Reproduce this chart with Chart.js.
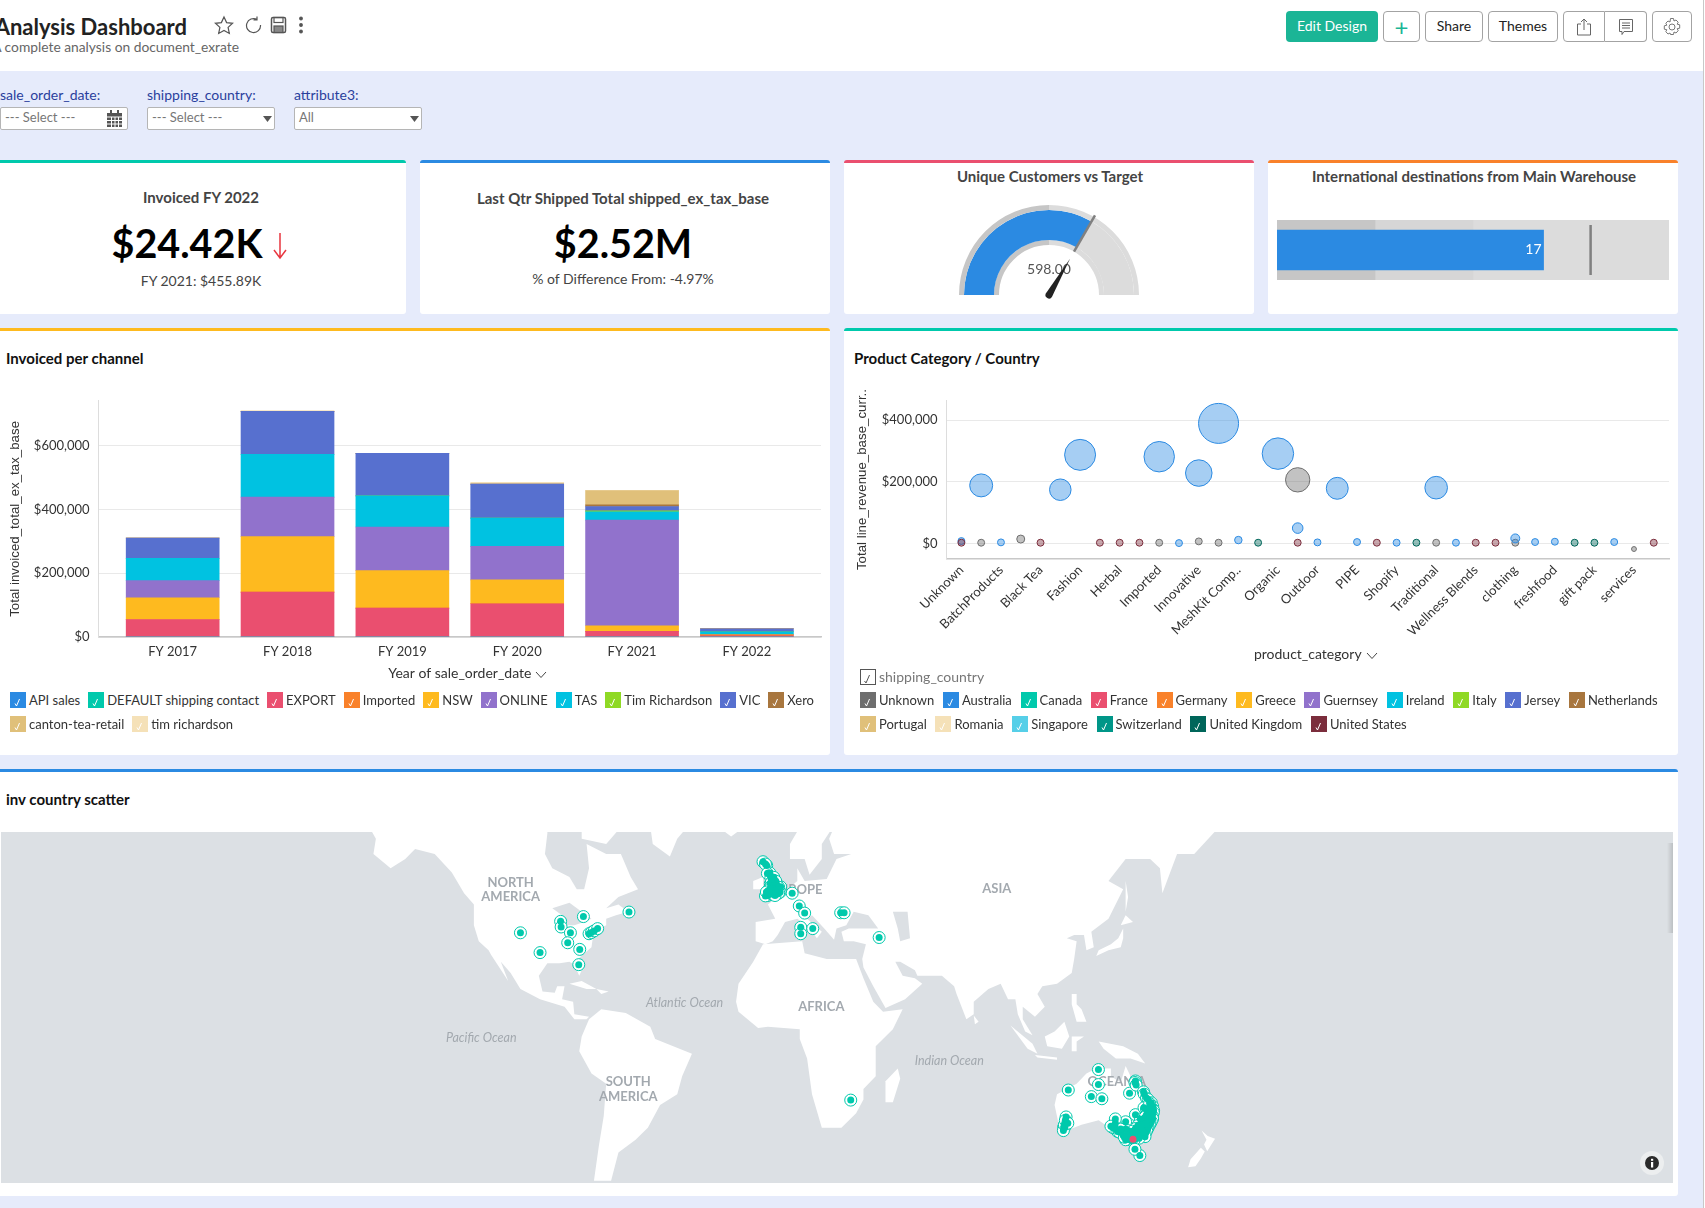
<!DOCTYPE html>
<html>
<head>
<meta charset="utf-8">
<title>Analysis Dashboard</title>
<script src="https://cdn.jsdelivr.net/npm/chart.js@4.4.4/dist/chart.umd.js"></script>
<style>
  html, body { margin: 0; padding: 0; background: #e6ebfb; }
  #page { position: relative; width: 1705px; height: 1208px; overflow: hidden; background: #e6ebfb; font-family: Lato, sans-serif; color: #333; }
  #page > * { position: absolute; }
  .t { white-space: nowrap; line-height: 1; }
  .c { transform: translate(-50%, -50%); }
  .m { transform: translateY(-50%); }
  .card { background: #fff; border-top: 3px solid; border-radius: 3px; box-sizing: border-box; }
  .btn { box-sizing: border-box; border: 1px solid #a3a3a3; border-radius: 4px; background: #fff; display: flex; align-items: center; justify-content: center; font-size: 14px; color: #222; padding-bottom: 3px; }
  .field { box-sizing: border-box; height: 23px; top: 107px; width: 128px; background: #fff; border: 1px solid #b5b5b5; border-radius: 2px; font-size: 13px; color: #777; padding: 1px 4px; line-height: 17px; }
  .flabel { top: 95px; font-size: 14px; color: #2a3f9d; }
  .legend { display: flex; flex-wrap: wrap; row-gap: 8px; font-size: 13px; color: #333; }
  .item { display: flex; align-items: center; height: 16px; white-space: nowrap; }
  .box { width: 16px; height: 16px; margin-right: 3px; flex: none; display: block; }
  canvas { display: block; }
</style>
</head>
<body>
<div id="page">
  <div style="left:0;top:0;width:1705px;height:71px;background:#fff"></div>
  <div class="t m" style="right:1518px;top:27px;font-size:22px;font-weight:700;color:#222">Analysis Dashboard</div>
  <div class="t m" style="right:1466px;top:47px;font-size:13.8px;color:#666">A complete analysis on document_exrate</div>

  <svg style="left:214px;top:15px" width="96" height="20" viewBox="0 0 96 20" fill="none" stroke="#555" stroke-width="1.2">
    <path d="M10 2l2.6 5.6 6 .7-4.5 4.1 1.2 6L10 15.4 4.700 18.400l1.200-6L1.400 8.300l6-.7z"/>
    <path d="M43 4.500a7 7 0 1 0 3.500 5.500M43 1.500v3.500h-3.500"/>
    <rect x="57.500" y="2.500" width="14" height="15" rx="1.500" stroke-width="1.500"/><rect x="60" y="2.500" width="9" height="5"/><rect x="60" y="11" width="9" height="6.500" fill="#888"/>
    <circle cx="87" cy="3.500" r="1.300" fill="#555"/><circle cx="87" cy="10" r="1.300" fill="#555"/><circle cx="87" cy="16.500" r="1.300" fill="#555"/>
  </svg>

  <div class="btn" style="left:1286px;top:11px;width:92px;height:31px;background:#1bb596;border:none;color:#fff">Edit Design</div>
  <div class="btn" style="left:1383px;top:11px;width:37px;height:31px;color:#1bb596;font-size:24px;padding:0">+</div>
  <div class="btn" style="left:1425px;top:11px;width:58px;height:31px">Share</div>
  <div class="btn" style="left:1488px;top:11px;width:70px;height:31px">Themes</div>
  <div class="btn" style="left:1563px;top:11px;width:42px;height:31px;border-radius:4px 0 0 4px;padding:0">
    <svg width="18" height="18" viewBox="0 0 18 18" fill="none" stroke="#666"><path d="M6 6H2.500v11h13V6H12M9 12V1M6 4l3-3 3 3"/></svg>
  </div>
  <div class="btn" style="left:1605px;top:11px;width:42px;height:31px;border-left:none;border-radius:0 4px 4px 0;padding:0">
    <svg width="18" height="18" viewBox="0 0 18 18" fill="none" stroke="#666"><path d="M2.500 1.500h13v12H7l-2 3v-3H2.500zM5 5h8M5 7.500h8M5 10h8"/></svg>
  </div>
  <div class="btn" style="left:1652px;top:11px;width:40px;height:31px;padding:0">
    <svg width="20" height="20" viewBox="0 0 20 20" fill="none" stroke="#777"><circle cx="10" cy="10" r="3"/><path d="M8.500 1.500h3l.5 2.500 2-1 2.200 2.200-1 2 2.500.6v3.400l-2.500.5 1 2-2.200 2.300-2-1-.5 2.500h-3L8 16l-2 1-2.200-2.300 1-2-2.500-.5V8.800l2.500-.6-1-2L6 4l2 1z"/></svg>
  </div>

  <div class="t m flabel" style="left:0">sale_order_date:</div>
  <div class="t m flabel" style="left:147px">shipping_country:</div>
  <div class="t m flabel" style="left:294px">attribute3:</div>
  <div class="field" style="left:0">--- Select ---</div>
  <div class="field" style="left:147px">--- Select ---</div>
  <div class="field" style="left:294px">All</div>
  <svg style="left:106px;top:110px" width="17" height="17" viewBox="0 0 17 17"><path fill="#555" d="M1 3h15v14H1zM4 0h2v4H4zM11 0h2v4h-2z"/><path stroke="#fff" d="M1 7h15M1 10.500h15M1 14h15M5.500 7v10M9 7v10M12.500 7v10"/></svg>
  <svg style="left:263px;top:116px" width="9" height="6"><path fill="#555" d="M0 0h9L4.500 6z"/></svg>
  <svg style="left:410px;top:116px" width="9" height="6"><path fill="#555" d="M0 0h9L4.500 6z"/></svg>

  <!-- KPI cards -->
  <div class="card" style="left:-4px;top:160px;width:410px;height:154px;border-color:#00c9ac"></div>
  <div class="card" style="left:420px;top:160px;width:410px;height:154px;border-color:#2b8ae2"></div>
  <div class="card" style="left:844px;top:160px;width:410px;height:154px;border-color:#ea4f6f"></div>
  <div class="card" style="left:1268px;top:160px;width:410px;height:154px;border-color:#f9812a"></div>

  <div class="t c" style="left:201px;top:197px;font-size:15px;font-weight:700;color:#444">Invoiced FY 2022</div>
  <div class="t c" style="left:187px;top:243px;font-size:39.5px;font-weight:700;color:#000">$24.42K</div>
  <svg style="left:272px;top:232px" width="16" height="28" fill="none" stroke="#e8363f" stroke-width="1.500"><path d="M8 1v25M2 18l6 8 6-8"/></svg>
  <div class="t c" style="left:201px;top:281px;font-size:14px;color:#444">FY 2021: $455.89K</div>
  <div class="t c" style="left:623px;top:198px;font-size:15px;font-weight:700;color:#444">Last Qtr Shipped Total shipped_ex_tax_base</div>
  <div class="t c" style="left:623px;top:243px;font-size:39.5px;font-weight:700;color:#000">$2.52M</div>
  <div class="t c" style="left:623px;top:279px;font-size:14px;color:#444">% of Difference From: -4.97%</div>
  <div class="t c" style="left:1050px;top:176px;font-size:15px;font-weight:700;color:#444">Unique Customers vs Target</div>
  <div class="t c" style="left:1474px;top:176px;font-size:15px;font-weight:700;color:#444">International destinations from Main Warehouse</div>

  <canvas id="gauge" width="180" height="105" style="left:959px;top:205px"></canvas>
  <canvas id="bullet" width="392" height="60" style="left:1277px;top:220px"></canvas>

  <!-- Chart panels -->
  <div class="card" style="left:-4px;top:328px;width:834px;height:427px;border-color:#feba1f"></div>
  <div class="card" style="left:844px;top:328px;width:834px;height:427px;border-color:#00c9ac"></div>
  <div class="card" style="left:-4px;top:769px;width:1682px;height:427px;border-color:#2b8ae2"></div>
  <div class="t m" style="left:6px;top:358px;font-size:15px;font-weight:700;color:#111">Invoiced per channel</div>
  <div class="t m" style="left:854px;top:358px;font-size:15px;font-weight:700;color:#111">Product Category / Country</div>
  <div class="t m" style="left:6px;top:799px;font-size:15px;font-weight:700;color:#111">inv country scatter</div>

  <canvas id="barChart" width="830" height="300" style="left:0;top:384px"></canvas>
  <canvas id="bubbleChart" width="828" height="281" style="left:850px;top:384px"></canvas>
  <svg style="left:535px;top:671px" width="12" height="8" fill="none" stroke="#444"><path d="M1 1l5 5.500L11 1"/></svg>
  <svg style="left:1366px;top:652px" width="12" height="8" fill="none" stroke="#444"><path d="M1 1l5 5.500L11 1"/></svg>

  <div id="barLegend" class="legend" style="left:10px;top:691.500px;width:815px;column-gap:8px"></div>
  <svg style="left:860px;top:669px" width="16" height="16" fill="none"><rect x=".5" y=".5" width="15" height="15" stroke="#555"/><path d="M4.500 12l1.500 2 3.500-8" stroke="#555"/></svg>
  <div class="t m" style="left:879px;top:677px;font-size:14px;color:#777">shipping_country</div>
  <div id="bubbleLegend" class="legend" style="left:860px;top:691.500px;width:815px;column-gap:8.700px"></div>

  <canvas id="mapChart" width="1672" height="351" style="left:1px;top:832px"></canvas>
  <div style="left:1667px;top:843px;width:6px;height:90px;background:linear-gradient(to right,rgba(0,0,0,0),rgba(0,0,0,.14))"></div>
  <div style="left:1640px;top:1151px;width:24px;height:24px;border-radius:50%;background:#eceeef"></div>
  <svg style="left:1645px;top:1156px" width="14" height="14"><circle cx="7" cy="7" r="7" fill="#2b2b2b"/><rect x="6" y="6" width="2.200" height="5.500" fill="#fff"/><rect x="6" y="2.800" width="2.200" height="2" fill="#fff"/></svg>
  <div style="left:1703px;top:0;width:1px;height:1208px;background:#c8c8c8"></div>
  <div style="left:1704px;top:0;width:1px;height:1208px;background:#fff"></div>
</div>

<script>
// ── Data ───────────────────────────────────────────────────────────────────

const fiscalYears = ['FY 2017', 'FY 2018', 'FY 2019', 'FY 2020', 'FY 2021', 'FY 2022'];
const invoicedTicks = [0, 200000, 400000, 600000];
const revenueTicks  = [0, 200000, 400000];

const apiSales       = [0, 0, 0, 0, 0, 0];
const defaultContact = [0, 0, 0, 0, 0, 0];
const exportSales    = [55000, 140600, 90600, 104200, 17700, 4000];
const imported       = [0, 0, 0, 0, 0, 3000];
const nsw            = [68000, 174000, 117700, 75000, 17700, 0];
const online         = [54000, 124000, 136500, 105200, 331300, 0];
const tas            = [70000, 134400, 97900, 88500, 26000, 9600];
const timRichardson  = [0, 0, 0, 0, 3000, 0];
const vic            = [63500, 134400, 133300, 106300, 13600, 9400];
const xero           = [0, 0, 0, 0, 5000, 0];
const cantonTea      = [0, 0, 0, 0, 44800, 0];
const timLower       = [0, 2500, 0, 5500, 0, 0];

const channelNames  = ['API sales', 'DEFAULT shipping contact', 'EXPORT', 'Imported', 'NSW', 'ONLINE', 'TAS', 'Tim Richardson', 'VIC', 'Xero', 'canton-tea-retail', 'tim richardson'];
const channelValues = [apiSales, defaultContact, exportSales, imported, nsw, online, tas, timRichardson, vic, xero, cantonTea, timLower];
const channelColors = ['#2b8ae2', '#00c9ac', '#ea4f6f', '#f9812a', '#feba1f', '#9172cc', '#00c2e1', '#8fd925', '#5770cf', '#a8763e', '#e0c07a', '#f5e1b8'];

const productCategories = ['Unknown', 'BatchProducts', 'Black Tea', 'Fashion', 'Herbal', 'Imported', 'Innovative', 'MeshKit Comp..', 'Organic', 'Outdoor', 'PIPE', 'Shopify', 'Traditional', 'Wellness Blends', 'clothing', 'freshfood', 'gift pack', 'services'];

// slot on the product axis, revenue, and bubble size (largest = 100)
const australiaSlot = [0, 1, 2, 5, 6, 10, 11, 12, 13, 14, 16, 17, 18, 19, 20, 22, 24, 25, 28, 29, 30, 33];
const australiaRev  = [7500, 188000, 3200, 174000, 287000, 281000, 1000, 228000, 389000, 10750, 291000, 49500, 3200, 178500, 4300, 2150, 180600, 2150, 16100, 4300, 5400, 4300];
const australiaSize = [3, 33, 3, 29, 60, 58, 3, 44, 100, 3.500, 62, 7, 3, 30, 3, 3, 32, 3, 5, 3, 3, 3];
const unknownSlot = [1, 3, 10, 12, 13, 17, 24, 28, 34];
const unknownRev  = [2150, 14000, 2150, 6400, 2150, 206000, 2150, 2150, -18300];
const unknownSize = [3, 4, 3, 3, 3, 37, 3, 3, 1.500];
const usSlot = [0, 4, 7, 8, 9, 17, 21, 26, 27, 35];
const usRev  = [2150, 2150, 2150, 2150, 2150, 2150, 2150, 2150, 2150, 2150];
const usSize = [3, 3, 3, 3, 3, 3, 3, 3, 3, 3];
const ukSlot = [15, 23, 31, 32];
const ukRev  = [2150, 2150, 2150, 2150];
const ukSize = [3, 3, 3, 3];

const countryNames  = ['Unknown', 'Australia', 'Canada', 'France', 'Germany', 'Greece', 'Guernsey', 'Ireland', 'Italy', 'Jersey', 'Netherlands', 'Portugal', 'Romania', 'Singapore', 'Switzerland', 'United Kingdom', 'United States'];
const countryColors = ['#6e6e6e', '#2b8ae2', '#00c9ac', '#ea4f6f', '#f9812a', '#feba1f', '#9172cc', '#00c2e1', '#8fd925', '#5770cf', '#a8763e', '#e0c07a', '#f5e1b8', '#56cfe8', '#009688', '#00665a', '#7b2d3c'];

const gaugeValue = 598;
const gaugeMax   = 897;
const bulletValue  = 17;
const bulletTarget = 20;
const bulletBands  = [6.25, 6.25, 12.5];

// [lon, lat]
const usCities = [[-105, 39.700], [-97, 33.200], [-88.600, 43.200], [-88.400, 41.500], [-79.300, 44.600], [-60.700, 45.900], [-84.600, 39.700], [-85.700, 36.500], [-80.800, 34.300], [-81.200, 29], [-77, 39.400], [-76, 39.800], [-74.900, 40.300], [-73.500, 41]];
const ukCities = [[-6, 58.400], [-4.500, 57.600], [-5, 57.900], [-3.800, 55.900], [-3.200, 55.900], [-4.200, 55.800], [-2.800, 54.800], [-2.200, 53.500], [-1.500, 53.800], [-3, 53.400], [-1.200, 53], [-0.100, 52.600], [-1.900, 52.500], [-3.200, 51.500], [-2.600, 51.500], [-1.300, 51.800], [-0.100, 51.500], [0.500, 51.700], [1.200, 52.600], [0.100, 52.200], [-1.400, 50.900], [-0.200, 50.800], [-3.500, 50.700], [-4.100, 50.400], [-5, 50.300], [1, 51.300], [-1, 52.200], [-2, 53], [-0.500, 53.300], [0, 51], [-2.500, 52], [-0.800, 51.200], [-1.600, 54.900], [-3.900, 51.700], [-1.800, 54.200], [-0.800, 54], [-2.600, 53.700], [-0.700, 52.800], [-1.600, 52.900], [-2.700, 52.800], [-1.700, 52], [-0.700, 52], [0.400, 52.500], [-3, 52.200], [-2.200, 51.200], [-1.200, 51.200], [-0.400, 50.900], [0.400, 51.100], [-2.800, 50.900], [-1.900, 50.700], [-4.600, 51.300], [-1.100, 50.400]];
const euCities = [[5.900, 51], [8.800, 47.600], [11, 45.600], [9.400, 41.400], [9.400, 39.400], [14.300, 41], [25.700, 45.700], [27.100, 45.700], [41.400, 38.200], [29.800, -24.200]];
const auCities = [[116.900, -33.500], [116.700, -34], [117.200, -33.800], [116.600, -35], [117, -33], [117.700, -30.300], [117.400, -31.500], [118.400, -32.500], [130.900, -12.400], [130.900, -18.300], [118.600, -20.400], [128, -22.900], [132.300, -23.700], [143.600, -21.600], [146, -16.900], [145.800, -17.500], [146.300, -18.500], [149.300, -21.100], [149.600, -22], [150.500, -23.400], [151.200, -24], [152.500, -25.200], [153, -26.500], [153, -27.500], [153.400, -28], [153.300, -28.800], [152.900, -30], [153, -31], [152.500, -31.900], [152, -32.700], [151.700, -33], [151.200, -33.900], [150.900, -34.400], [150.600, -35], [150, -36], [149.900, -37], [146, -29.500], [149.500, -27], [150.500, -27.500], [148, -31], [149.500, -32], [148, -33], [150, -33.500], [147, -34.500], [146.500, -35], [149.100, -35.300], [148, -36], [145, -36], [144, -36.500], [146, -37], [147.500, -37.500], [144.900, -37.800], [145.500, -38], [144.400, -38.200], [143.500, -37.500], [142, -38], [141, -36.500], [142, -34.500], [142, -32], [143, -35], [138.600, -34.900], [138.700, -35.300], [137.800, -32.500], [137.600, -33.500], [136.800, -34], [137.800, -31], [136, -33.500], [139.500, -35.500], [140, -34.500], [147.800, -42.900], [145.800, -41], [151, -31], [151.500, -29], [152, -27], [151.800, -25.500], [150.500, -29.500], [150.700, -31.500], [149.500, -34], [149, -35.500], [148.500, -33.800], [147.500, -35.800], [146.800, -36.300], [146, -36.200], [145.300, -36.800], [144.300, -37.200], [143, -36.300], [141.500, -37.200], [147, -33.300], [146, -34.300], [144.800, -35.200], [150.300, -32.800], [150, -30.300]];
const exportCities = [[145, -37.800]];

// Rough coastlines behind the scatter, in [lon, lat]
const landShapes = [
  [[-168, 66], [-164, 63], [-165, 60], [-158, 57], [-152, 59], [-148, 61], [-140, 60], [-133, 56], [-128, 51], [-124, 48], [-124, 42], [-122, 37], [-118, 34], [-117, 32.500], [-110, 23], [-113, 30], [-109, 26], [-105, 20], [-97, 16], [-92, 14.500], [-87, 13], [-83, 8], [-78, 8], [-77, 9], [-83, 10], [-83.500, 15], [-88, 16], [-87, 21], [-90, 21], [-91, 18.500], [-96, 19], [-97.500, 25], [-94, 29.500], [-89, 29.500], [-85, 30], [-83, 29], [-81, 25], [-80, 27], [-81.500, 31], [-76, 35], [-75.500, 38], [-74, 40.500], [-70, 42], [-70, 44], [-66, 45], [-61, 46], [-65, 48], [-70, 47], [-65, 50], [-57, 52], [-60, 55], [-64, 60], [-70, 60], [-78, 62], [-77, 57], [-79, 52], [-82, 52], [-85, 55], [-92, 57], [-95, 60], [-94, 64], [-95, 75], [-168, 75]],
  [[-80, 63], [-70, 62], [-62, 66], [-70, 72], [-80, 70]],
  [[-51, 62], [-44, 59.500], [-41, 63], [-35, 66], [-20, 75], [-60, 78], [-53, 68]],
  [[-24, 65], [-19, 63.400], [-14, 65], [-16, 66.500], [-22, 66]],
  [[-77, 8], [-72, 12], [-62, 10.500], [-52, 5], [-50, 0], [-35, -6], [-39, -15], [-41, -22], [-48, -26], [-53, -34], [-58, -38], [-65, -42], [-68, -50], [-75, -50], [-73, -40], [-71, -30], [-70, -18], [-76, -14], [-81, -5], [-80, 1]],
  [[-85, 22], [-80, 23], [-74, 20], [-78, 20]],
  [[-74, 20], [-69, 19], [-72, 18]],
  [[-6, 36], [10, 37], [11, 33], [20, 31], [32, 31], [35, 24], [39, 15], [43, 11], [51, 12], [47, 4], [40, -3], [40, -15], [35, -20], [35, -24], [32, -29], [26, -34], [18, -34], [14, -22], [12, -8], [9, 0], [9, 4], [-4, 5], [-8, 4.500], [-16, 11], [-17, 15], [-16, 22], [-10, 30]],
  [[-9, 37], [-9, 43], [-1, 44], [-4, 48], [4, 52], [8, 54], [8, 57], [11, 54], [20, 54.500], [24, 59], [30, 60], [23, 60], [21, 63], [24, 66], [18, 62], [18, 59], [13, 55.500], [11, 59], [5, 59], [5, 62], [15, 69], [30, 70], [40, 66], [60, 75], [180, 72], [180, 65], [170, 60], [163, 60], [157, 51], [156, 57], [152, 59], [142, 59], [135, 54], [141, 52], [135, 44], [128, 40], [129, 35], [126, 34], [125, 39], [121, 39], [118, 38], [122, 37], [121, 31], [120, 26], [114, 22], [108, 21], [106, 18], [109, 13], [105, 9], [100, 13], [100, 8], [104, 1.500], [101, 3], [98, 10], [97, 16], [94, 16], [91, 22], [86, 20], [80, 15], [80, 10], [77, 8], [73, 18], [72, 21], [67, 25], [57, 25], [56, 27], [50, 30], [48, 30], [51, 25], [56, 24], [59, 22], [52, 16], [44, 12.500], [39, 21], [35, 28], [34.500, 31], [36, 36], [31, 37], [27, 37], [26, 40], [29, 41], [41, 41], [37, 45], [31, 46], [28, 42], [24, 41], [23, 37.500], [19, 41], [14, 45], [12, 44], [18, 40], [16, 38], [12, 42], [8, 44], [3, 43], [0, 39], [-2, 37], [-5, 36]],
  [[-5, 50], [1, 51], [1, 53], [-2, 56], [-2, 58], [-5, 58.500], [-6, 56], [-3, 54], [-5, 52]],
  [[-10, 52], [-6, 52], [-6, 55], [-10, 54]],
  [[130, 32], [135, 34], [140, 35], [141, 38], [141, 41], [139, 38], [136, 36], [131, 34]],
  [[140, 42], [145, 43], [142, 45]],
  [[142, 46], [143, 50], [142, 54]],
  [[120, 18], [122, 18], [122, 14], [124, 12], [126, 7], [122, 7], [120, 14]],
  [[109, 1], [113, 3], [117, 7], [119, 1], [116, -4], [110, -3]],
  [[95, 5.500], [104, -2], [106, -6], [102, -4]],
  [[105, -6.500], [114, -7.500], [114, -8.500], [106, -7.500]],
  [[120, 1], [125, 1], [122, -1], [122, -5], [120, -5]],
  [[131, -1], [141, -3], [147, -6], [150, -10], [144, -8], [138, -8], [133, -4]],
  [[114, -22], [122, -18], [126, -14], [130, -12], [136, -12], [136, -15], [140, -17.500], [142, -11], [146, -19], [153, -26], [153, -31], [150, -37], [146, -39], [140, -38], [137, -35], [131, -31.500], [124, -33], [118, -35], [115, -34], [113, -26]],
  [[144.700, -40.700], [148.300, -40.900], [148, -43], [146, -43.500]],
  [[173, -35], [175.500, -36.800], [178.500, -37.700], [177, -39.500], [175.300, -41.600], [174, -39.500], [175, -38]],
  [[172.700, -40.500], [174.300, -41.700], [172.700, -43.800], [170.500, -46], [167.500, -46.300], [168.500, -44], [171, -42]],
  [[49, -12], [50, -16], [47, -25], [44, -25], [44, -17]],
  [[80, 9.500], [82, 7], [80.500, 6]],
];
const waterShapes = [
  [[-92, 47], [-85, 48.500], [-80, 46], [-76, 44], [-79, 43], [-83, 42], [-87, 42], [-88, 45]],
  [[47, 46], [53, 46], [54, 38], [50, 37], [49, 41]],
];

const mapLabelText = ['NORTH', 'AMERICA', 'EUROPE', 'ASIA', 'AFRICA', 'SOUTH', 'AMERICA', 'OCEANIA'];
const mapLabelLon  = [-109, -109, 7.800, 89.400, 17.800, -61, -61, 138.400];
const mapLabelLat  = [53.600, 50, 51.800, 52, 12.900, -17.200, -22.800, -17.300];
const oceanText = ['Atlantic Ocean', 'Pacific Ocean', 'Indian Ocean'];
const oceanLon  = [-38, -121, 70];
const oceanLat  = [14.700, 0.400, -9];

// ── Helpers ────────────────────────────────────────────────────────────────

Chart.defaults.font.family = 'Lato, sans-serif';
Chart.defaults.font.size = 13;
Chart.defaults.color = '#333';
Chart.defaults.animation = false;
Chart.defaults.responsive = false;
Chart.defaults.layout.autoPadding = false;
Chart.defaults.plugins.legend.display = false;
Chart.defaults.plugins.tooltip.enabled = false;

const AXIS_FONT = { family: '"Liberation Sans", sans-serif', size: 13.3 };
const XTITLE_FONT = { size: 14 };
const GRID = '#e9e9e9';

const mercator = lat => Math.log(Math.tan(Math.PI / 4 + lat * Math.PI / 360));
const bubbleRadius = size => 20 * Math.sqrt(size / 100);
const money = v => '$' + v.toLocaleString('en-US');
const fixedTicks = values => scale => { scale.ticks = values.map(value => ({ value })); };

function hexAlpha(hex, a) {
  const n = parseInt(hex.slice(1), 16);
  return `rgba(${n >> 16}, ${(n >> 8) & 255}, ${n & 255}, ${a})`;
}

// Checkbox legend, same look for both panels
function buildLegend(id, names, colors) {
  document.getElementById(id).innerHTML = names.map((name, i) => `
    <div class="item"><svg class="box" viewBox="0 0 16 16"><rect width="16" height="16" fill="${colors[i]}"/><path d="M5 11.500l1.500 2.500 3-7" fill="none" stroke="#fff"/></svg>${name}</div>`).join('');
}
buildLegend('barLegend', channelNames, channelColors);
buildLegend('bubbleLegend', countryNames, countryColors);

// ── Gauge ──────────────────────────────────────────────────────────────────

const gaugeNeedle = {
  id: 'gaugeNeedle',
  afterDraw(chart) {
    const { ctx } = chart;
    const { x, y } = chart.getDatasetMeta(0).data[0];
    const ang = Math.PI + Math.PI * gaugeValue / gaugeMax;
    const cos = Math.cos(ang), sin = Math.sin(ang);
    ctx.save();
    ctx.strokeStyle = '#808080';
    ctx.lineWidth = 2.5;
    ctx.beginPath();
    ctx.moveTo(x + cos * 50, y + sin * 50);
    ctx.lineTo(x + cos * 92, y + sin * 92);
    ctx.stroke();
    ctx.fillStyle = '#555';
    ctx.font = '14px Lato';
    ctx.textAlign = 'center';
    ctx.textBaseline = 'middle';
    ctx.fillText(gaugeValue.toFixed(2), x, y - 26);
    ctx.fillStyle = '#222';
    ctx.beginPath();
    ctx.moveTo(x + cos * 42, y + sin * 42);
    ctx.lineTo(x - sin * 3.5, y + cos * 3.5);
    ctx.arc(x, y, 3.5, ang + Math.PI / 2, ang - Math.PI / 2);
    ctx.closePath();
    ctx.fill();
    ctx.restore();
  },
};

new Chart(document.getElementById('gauge'), {
  type: 'doughnut',
  data: {
    datasets: [
      { data: [gaugeMax / 2, gaugeMax / 2], backgroundColor: ['#c6c6c6', '#dcdcdc'], weight: 5, borderWidth: 0 },
      { data: [gaugeValue, gaugeMax - gaugeValue], backgroundColor: ['#2b8ae2', '#dcdcdc'], weight: 30, borderWidth: 0 },
      { data: [gaugeMax / 2, gaugeMax / 2], backgroundColor: ['#c6c6c6', '#dcdcdc'], weight: 5, borderWidth: 0 },
    ],
  },
  options: {
    rotation: -90,
    circumference: 180,
    cutout: '55.56%',
    layout: { padding: { bottom: 15 } },
  },
  plugins: [gaugeNeedle],
});

// ── Bullet ─────────────────────────────────────────────────────────────────

const bulletMarks = {
  id: 'bulletMarks',
  afterDatasetsDraw(chart) {
    const { ctx, scales: { x } } = chart;
    ctx.save();
    ctx.fillStyle = '#808080';
    ctx.fillRect(x.getPixelForValue(bulletTarget) - 1.25, 5, 2.5, 50);
    ctx.fillStyle = '#fff';
    ctx.font = '14px Lato';
    ctx.textAlign = 'right';
    ctx.textBaseline = 'middle';
    ctx.fillText(String(bulletValue), x.getPixelForValue(bulletValue) - 2, 29);
    ctx.restore();
  },
};

const bulletBase = { grouped: false, categoryPercentage: 1, barPercentage: 1 };

new Chart(document.getElementById('bullet'), {
  type: 'bar',
  data: {
    labels: [''],
    datasets: [
      { ...bulletBase, data: [bulletValue], backgroundColor: '#2b8ae2', stack: 'value', maxBarThickness: 40, order: 0 },
      { ...bulletBase, data: [bulletBands[0]], backgroundColor: '#c6c6c6', stack: 'bands', order: 1 },
      { ...bulletBase, data: [bulletBands[1]], backgroundColor: '#d6d6d6', stack: 'bands', order: 1 },
      { ...bulletBase, data: [bulletBands[2]], backgroundColor: '#dcdcdc', stack: 'bands', order: 1 },
    ],
  },
  options: {
    indexAxis: 'y',
    scales: {
      x: { min: 0, max: 25, stacked: true, display: false },
      y: { stacked: true, display: false },
    },
  },
  plugins: [bulletMarks],
});

// ── Invoiced per channel ───────────────────────────────────────────────────

new Chart(document.getElementById('barChart'), {
  type: 'bar',
  data: {
    labels: fiscalYears.map((_, i) => i),
    datasets: channelNames.map((name, i) => ({
      label: name,
      data: channelValues[i],
      backgroundColor: channelColors[i],
      barThickness: 93,
    })),
  },
  options: {
    layout: { padding: { top: 10, right: 9 } },
    scales: {
      x: {
        type: 'linear',
        stacked: true,
        offset: false,
        min: -0.645,
        max: 5.645,
        afterFit: s => { s.height = 47; },
        grid: { display: false, offset: false, drawTicks: false },
        border: { color: '#c8c8c8', width: 1.500 },
        ticks: { stepSize: 1, includeBounds: false, autoSkip: false, maxRotation: 0, padding: 7, callback: v => fiscalYears[v] },
        title: { display: true, text: 'Year of sale_order_date', color: '#333', font: XTITLE_FONT, padding: { top: 0, bottom: 2 } },
      },
      y: {
        stacked: true,
        min: 0,
        max: 740625,
        afterBuildTicks: fixedTicks(invoicedTicks),
        afterFit: s => { s.width = 98.6; },
        grid: { color: GRID, drawTicks: false },
        border: { color: '#ddd' },
        ticks: { padding: 9, callback: money },
        title: { display: true, text: 'Total invoiced_total_ex_tax_base', color: '#333', font: AXIS_FONT, padding: { top: 7, bottom: 0 } },
      },
    },
  },
});

// ── Product Category / Country ─────────────────────────────────────────────

function bubbleSeries(label, color, slots, revenue, sizes) {
  return {
    label,
    data: slots.map((slot, i) => ({ x: slot, y: revenue[i], r: bubbleRadius(sizes[i]) })),
    backgroundColor: hexAlpha(color, 0.42),
    borderColor: color,
    borderWidth: 1,
  };
}

new Chart(document.getElementById('bubbleChart'), {
  type: 'bubble',
  data: {
    datasets: [
      bubbleSeries('United States', '#7b2d3c', usSlot, usRev, usSize),
      bubbleSeries('United Kingdom', '#00665a', ukSlot, ukRev, ukSize),
      bubbleSeries('Australia', '#2b8ae2', australiaSlot, australiaRev, australiaSize),
      bubbleSeries('Unknown', '#6e6e6e', unknownSlot, unknownRev, unknownSize),
    ],
  },
  options: {
    layout: { padding: { top: 10, right: 9 } },
    scales: {
      x: {
        type: 'linear',
        min: -0.753,
        max: 35.77,
        afterFit: s => { s.height = 106.7; },
        grid: { display: false, drawTicks: false },
        border: { color: '#c8c8c8', width: 1.500 },
        ticks: { stepSize: 2, includeBounds: false, autoSkip: false, minRotation: 45, maxRotation: 45, padding: 4, callback: v => productCategories[v / 2] },
        title: { display: true, text: 'product_category', color: '#333', font: XTITLE_FONT, padding: { top: 0, bottom: 2 } },
      },
      y: {
        min: -48387,
        max: 462258,
        afterBuildTicks: fixedTicks(revenueTicks),
        afterFit: s => { s.width = 96.5; },
        grid: { color: GRID, drawTicks: false },
        border: { color: '#ddd' },
        ticks: { padding: 9, callback: money },
        title: { display: true, text: 'Total line_revenue_base_curr..', color: '#333', font: AXIS_FONT, padding: { top: 4, bottom: 0 } },
      },
    },
  },
});

// ── inv country scatter ────────────────────────────────────────────────────

const mapBackdrop = {
  id: 'mapBackdrop',
  beforeDatasetsDraw(chart) {
    const { ctx, chartArea: a, scales: { x, y } } = chart;
    const fillShapes = (shapes, color) => {
      ctx.fillStyle = color;
      for (const shape of shapes) {
        ctx.beginPath();
        shape.forEach(([lon, lat], i) => {
          const px = x.getPixelForValue(lon), py = y.getPixelForValue(mercator(lat));
          i ? ctx.lineTo(px, py) : ctx.moveTo(px, py);
        });
        ctx.closePath();
        ctx.fill();
      }
    };
    const WATER = '#dce0e4';
    ctx.save();
    ctx.beginPath();
    ctx.rect(a.left, a.top, a.width, a.height);
    ctx.clip();
    ctx.fillStyle = WATER;
    ctx.fillRect(a.left, a.top, a.width, a.height);
    fillShapes(landShapes, '#fff');
    fillShapes(waterShapes, WATER);
    ctx.textAlign = 'center';
    ctx.textBaseline = 'middle';
    ctx.fillStyle = '#a3a9af';
    ctx.font = 'bold 13px Lato';
    mapLabelText.forEach((t, i) => ctx.fillText(t, x.getPixelForValue(mapLabelLon[i]), y.getPixelForValue(mercator(mapLabelLat[i]))));
    ctx.font = 'italic 12.5px Lato';
    oceanText.forEach((t, i) => ctx.fillText(t, x.getPixelForValue(oceanLon[i]), y.getPixelForValue(mercator(oceanLat[i]))));
    ctx.restore();
  },
};

const cityPoints = [...usCities, ...ukCities, ...euCities, ...auCities].map(([x, lat]) => ({ x, y: mercator(lat) }));

new Chart(document.getElementById('mapChart'), {
  type: 'scatter',
  data: {
    datasets: [
      { data: exportCities.map(([x, lat]) => ({ x, y: mercator(lat) })), backgroundColor: '#ea4f6f', pointRadius: 3.5, borderWidth: 0 },
      { data: cityPoints, backgroundColor: '#00c9ac', pointRadius: 3.5, borderWidth: 0 },
      { data: cityPoints, backgroundColor: '#fff', borderColor: '#00c9ac', borderWidth: 1, pointRadius: 6 },
    ],
  },
  options: {
    scales: {
      x: { type: 'linear', min: -317, max: 365.4, display: false },
      y: { type: 'linear', min: -1.026, max: 1.474, display: false },
    },
  },
  plugins: [mapBackdrop],
});
</script>
</body>
</html>
